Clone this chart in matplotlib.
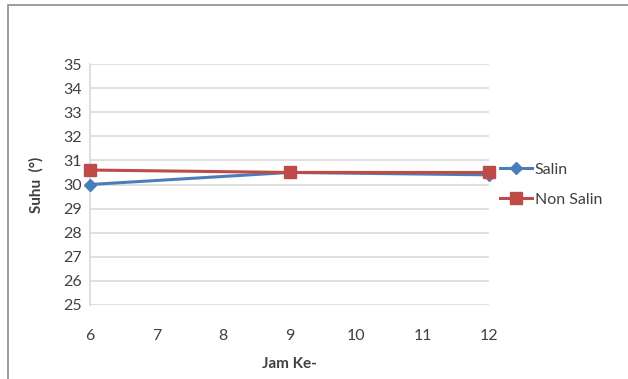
import matplotlib.pyplot as plt
from matplotlib.patches import Rectangle

HOURS = [6, 9, 12]
SALIN = [30.0, 30.5, 30.4]
NON_SALIN = [30.6, 30.5, 30.5]
X_TICKS = [6, 7, 8, 9, 10, 11, 12]
Y_TICKS = [25, 26, 27, 28, 29, 30, 31, 32, 33, 34, 35]

BLUE = "#4a7ebb"
RED = "#be4b48"
GRID = "#d9d9d9"
INK = "#404040"

plt.rcParams["font.family"] = ["Lato", "DejaVu Sans"]

fig = plt.figure(figsize=(6.28, 3.79), dpi=100, facecolor="white")
fig.patches.append(Rectangle((8 / 628, -0.01), 0.99, 1 - 5 / 379 + 0.01,
                             transform=fig.transFigure, fill=False,
                             edgecolor="#8c8c8c", linewidth=1.2))

ax = fig.add_axes([90 / 628, 1 - 305 / 379, 399 / 628, 241 / 379])
ax.set_xlim(6, 12)
ax.set_ylim(25, 35)
ax.set_xticks(X_TICKS)
ax.set_yticks(Y_TICKS)
ax.grid(True, axis="y", color=GRID, linewidth=1.2, zorder=0)
for side in ["top", "right", "bottom"]:
    ax.spines[side].set_visible(False)
ax.spines["left"].set_color(GRID)
ax.spines["left"].set_linewidth(1.2)
ax.tick_params(length=0, labelsize=11.5, colors=INK, pad=6)
ax.tick_params(axis="x", pad=17)

ax.plot(HOURS, SALIN, color=BLUE, linewidth=2.2, marker="D", markersize=6,
        label="Salin", zorder=3, clip_on=False)
ax.plot(HOURS, NON_SALIN, color=RED, linewidth=2.2, marker="s", markersize=9,
        label="Non Salin", zorder=4, clip_on=False)

ax.set_xlabel("Jam Ke-", fontsize=11, fontweight="bold", color=INK, labelpad=10)
ax.set_ylabel("Suhu  (°)", fontsize=11, fontweight="bold", color=INK, labelpad=14)

leg = ax.legend(loc="center left", bbox_to_anchor=(1.0, 0.5), frameon=False,
                fontsize=11.5, handlelength=2.0, handletextpad=0.15, labelspacing=1.0,
                borderaxespad=0.3)
for text in leg.get_texts():
    text.set_color(INK)

fig.savefig("out.png", dpi=100, facecolor="white")
